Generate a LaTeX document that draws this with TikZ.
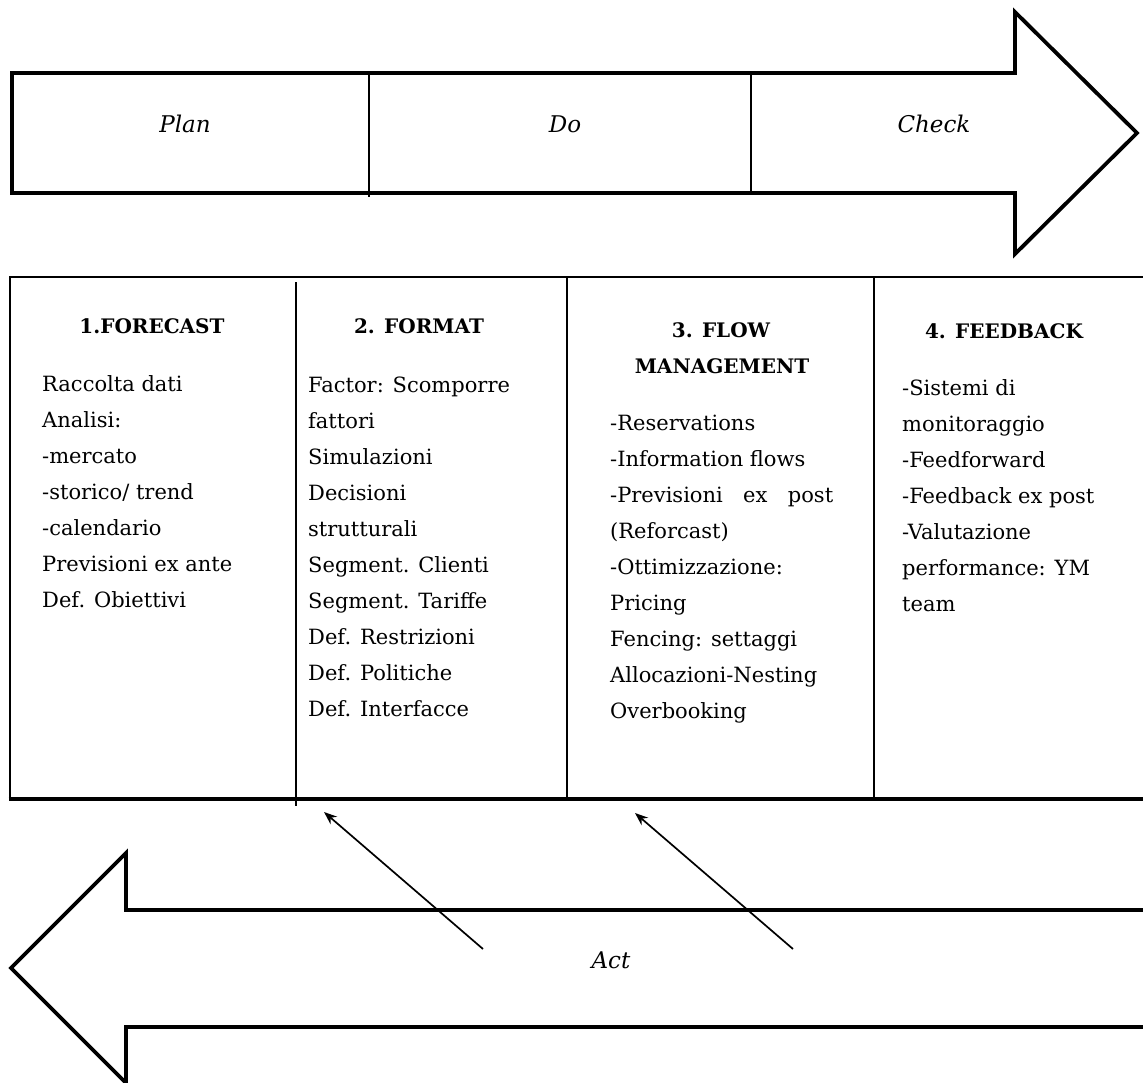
\documentclass[tikz,border=0pt]{standalone}
\usepackage{fontspec}
\setmainfont{DejaVu Serif}
\usetikzlibrary{arrows.meta}

\tikzset{
  bigarrow/.style={draw=black, line width=3.8pt, line join=miter, fill=white},
  rule/.style={draw=black, line width=1.7pt},
  heavyrule/.style={draw=black, line width=3.8pt},
  bodytext/.style={anchor=base west, inner sep=0pt, font=\fontsize{21}{25}\selectfont},
  headtext/.style={anchor=base, inner sep=0pt, font=\bfseries\fontsize{20}{24}\selectfont},
  phase/.style={anchor=base, inner sep=0pt, font=\itshape\fontsize{23}{27}\selectfont},
  pointer/.style={draw=black, line width=1.7pt, -{Stealth[length=13pt,width=10pt]}},
}

\begin{document}
\begin{tikzpicture}[x=1pt, y=-1pt]
  \useasboundingbox (0,0) rectangle (1143,1082);
  \clip (0,0) rectangle (1143,1082);

  % ---- Plan / Do / Check arrow ----
  \draw[bigarrow] (12,73) -- (1015,73) -- (1015,12) -- (1137,133)
        -- (1015,254) -- (1015,193) -- (12,193) -- cycle;
  \draw[rule] (369,74) -- (369,197);
  \draw[rule] (751,74) -- (751,192);
  \node[phase] (plan)  at (185,132) {Plan};
  \node[phase] (do)    at (565,132) {Do};
  \node[phase] (check) at (934,132) {Check};

  % ---- table of the four phases ----
  \draw[line width=2.2pt] (10,799) -- (10,277) -- (1150,277);
  \draw[rule] (296,282) -- (296,806);
  \draw[rule] (567,277) -- (567,799);
  \draw[rule] (874,277) -- (874,799);
  \draw[heavyrule] (8.5,799) -- (1150,799);

  % column 1
  \node[headtext] (h1) at (152,333) {1.FORECAST};
  \foreach \t [count=\i] in {{Raccolta dati},{Analisi:},{-mercato},{-storico/ trend},
      {-calendario},{Previsioni ex ante},{Def. Obiettivi}}
    \node[bodytext] (a\i) at (42,{391+36*(\i-1)}) {\t};

  % column 2
  \node[headtext] (h2) at (419,333) {2. FORMAT};
  \foreach \t [count=\i] in {{Factor: Scomporre},{fattori},{Simulazioni},{Decisioni},
      {strutturali},{Segment. Clienti},{Segment. Tariffe},{Def. Restrizioni},
      {Def. Politiche},{Def. Interfacce}}
    \node[bodytext] (b\i) at (308,{392+36*(\i-1)}) {\t};

  % column 3
  \node[headtext] (h3a) at (721,337) {3. FLOW};
  \node[headtext] (h3b) at (722,373) {MANAGEMENT};
  \foreach \t [count=\i] in {{-Reservations},{-Information flows},
      {\makebox[223pt][s]{-Previsioni ex post}},{(Reforcast)},{-Ottimizzazione:},
      {Pricing},{Fencing: settaggi},{Allocazioni-Nesting},{Overbooking}}
    \node[bodytext] (c\i) at (610,{430+36*(\i-1)}) {\t};

  % column 4
  \node[headtext] (h4) at (1004,338) {4. FEEDBACK};
  \foreach \t [count=\i] in {{-Sistemi di},{monitoraggio},{-Feedforward},
      {-Feedback ex post},{-Valutazione},{performance: YM},{team}}
    \node[bodytext] (d\i) at (902,{395+36*(\i-1)}) {\t};

  % ---- Act arrow ----
  \draw[bigarrow] (1150,910) -- (126,910) -- (126,853) -- (11,968)
        -- (126,1083) -- (126,1027) -- (1150,1027);
  \node[phase] (act) at (611,968) {Act};

  % ---- feedback pointers towards the table ----
  \coordinate (p1s) at (483,949);
  \coordinate (p1e) at (324,812);
  \coordinate (p2s) at (793,949);
  \coordinate (p2e) at (635,813);
  \draw[pointer] (p1s) -- (p1e);
  \draw[pointer] (p2s) -- (p2e);
\end{tikzpicture}
\end{document}
